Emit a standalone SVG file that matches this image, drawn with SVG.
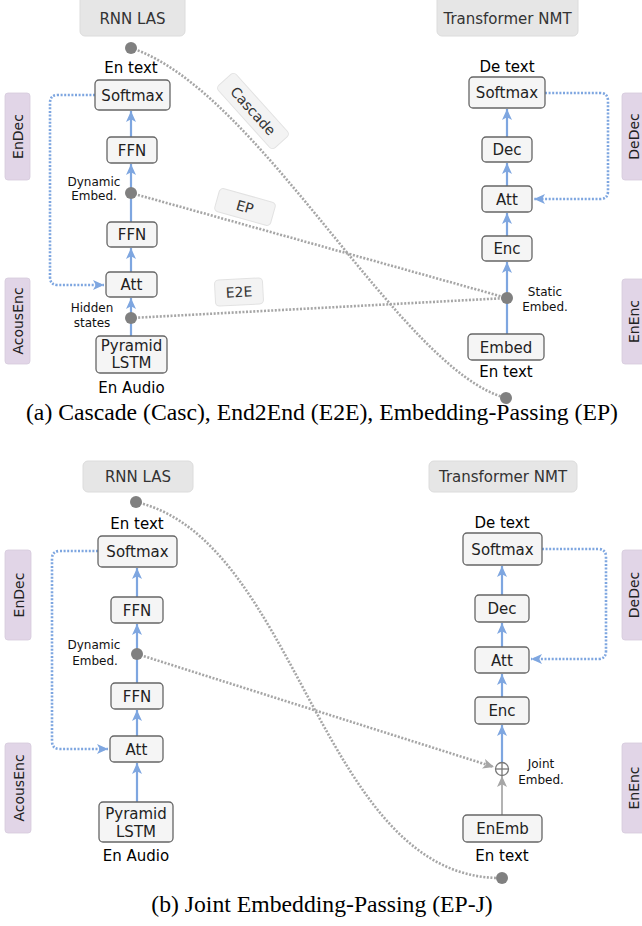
<svg xmlns="http://www.w3.org/2000/svg" width="642" height="926" viewBox="0 0 642 926">
<defs>
<style>
.title{fill:#e6e6e6;stroke:#dcdcdc;stroke-width:1}
.tt{font-family:"DejaVu Sans",Verdana,sans-serif;font-size:15px;fill:#333;text-anchor:middle}
.node{fill:#f5f5f5;stroke:#666;stroke-width:1.3}
.nt{font-family:"DejaVu Sans",Verdana,sans-serif;font-size:15px;fill:#222;text-anchor:middle}
.lab{font-family:"DejaVu Sans",Verdana,sans-serif;font-size:15px;fill:#000;text-anchor:middle}
.sm{font-family:"DejaVu Sans",Verdana,sans-serif;font-size:12px;fill:#111;text-anchor:middle}
.side{fill:#e1d5e7;stroke:#d6cadc;stroke-width:0.8}
.st{font-family:"DejaVu Sans",Verdana,sans-serif;font-size:14px;fill:#222;text-anchor:middle}
.tag{fill:#f3f3f3;stroke:#e2e2e2;stroke-width:1}
.tagt{font-family:"DejaVu Sans",Verdana,sans-serif;font-size:14px;fill:#333;text-anchor:middle}
.blue{fill:none;stroke:#7ea6e0;stroke-width:2.2}
.bdot{fill:none;stroke:#7ea6e0;stroke-width:2.6;stroke-dasharray:2 1.6}
.gdot{fill:none;stroke:#a6a6a6;stroke-width:2.6;stroke-dasharray:2 1.6}
.dot{fill:#808080}
.cap{font-family:"Liberation Serif","Times New Roman",serif;font-size:23.7px;fill:#000;text-anchor:middle}
</style>
<marker id="ab" markerUnits="userSpaceOnUse" markerWidth="12" markerHeight="11" refX="11" refY="5.5" orient="auto">
<path d="M0,0.5 L11,5.5 L0,10.5 L2.8,5.5 z" fill="#7ea6e0"/>
</marker>
<marker id="ag" markerUnits="userSpaceOnUse" markerWidth="12" markerHeight="11" refX="11" refY="5.5" orient="auto">
<path d="M0,0.5 L11,5.5 L0,10.5 L2.8,5.5 z" fill="#a6a6a6"/>
</marker>
</defs>
<rect width="642" height="926" fill="#fff"/>

<!-- ================= Panel (a) ================= -->
<g id="connectors-a">
<path class="gdot" d="M131,48 C260,90 400,370 506,398"/>
<line class="gdot" x1="131" y1="193" x2="507" y2="298"/>
<line class="gdot" x1="131" y1="318" x2="507" y2="298"/>
<path class="bdot" d="M95,95 H58 Q50,95 50,103 V277 Q50,285 58,285 H104" marker-end="url(#ab)"/>
<path class="bdot" d="M545,93 H600 Q608,93 608,101 V191 Q608,199 600,199 H534" marker-end="url(#ab)"/>
<line class="blue" x1="131" y1="336" x2="131" y2="298" marker-end="url(#ab)"/>
<line class="blue" x1="131" y1="272" x2="131" y2="248" marker-end="url(#ab)"/>
<line class="blue" x1="131" y1="222" x2="131" y2="164" marker-end="url(#ab)"/>
<line class="blue" x1="131" y1="137" x2="131" y2="111" marker-end="url(#ab)"/>
<line class="blue" x1="507" y1="334" x2="507" y2="262" marker-end="url(#ab)"/>
<line class="blue" x1="507" y1="236" x2="507" y2="213" marker-end="url(#ab)"/>
<line class="blue" x1="507" y1="186" x2="507" y2="163" marker-end="url(#ab)"/>
<line class="blue" x1="507" y1="137" x2="507" y2="109" marker-end="url(#ab)"/>
</g>

<g id="a-rnnlas"><rect class="title" x="80" y="-5" width="105" height="41" rx="5"/><text class="tt" x="132.5" y="24">RNN LAS</text></g>
<g id="a-nmt"><rect class="title" x="437" y="-5" width="141" height="41" rx="5"/><text class="tt" x="507.5" y="24">Transformer NMT</text></g>

<g id="a-endec"><rect class="side" x="5" y="93" width="25" height="87" rx="3"/><text class="st" transform="translate(23,136.5) rotate(-90)">EnDec</text></g>
<g id="a-acousenc"><rect class="side" x="5" y="278" width="25" height="86" rx="3"/><text class="st" transform="translate(23,321) rotate(-90)">AcousEnc</text></g>
<g id="a-dedec"><rect class="side" x="622" y="93" width="26" height="87" rx="3"/><text class="st" transform="translate(639,136.5) rotate(-90)">DeDec</text></g>
<g id="a-enenc"><rect class="side" x="622" y="279" width="26" height="85" rx="3"/><text class="st" transform="translate(639,321.5) rotate(-90)">EnEnc</text></g>

<g id="a-cascade-tag" transform="translate(253,111) rotate(48)"><rect class="tag" x="-42" y="-12" width="84" height="24" rx="4"/><text class="tagt" x="0" y="5">Cascade</text></g>
<g id="a-ep-tag" transform="translate(245,207) rotate(15.6)"><rect class="tag" x="-29" y="-12" width="58" height="24" rx="4"/><text class="tagt" x="0" y="5">EP</text></g>
<g id="a-e2e-tag" transform="translate(239,292) rotate(-3)"><rect class="tag" x="-24" y="-13" width="48" height="26" rx="4"/><text class="tagt" x="0" y="5">E2E</text></g>

<g id="a-entext-out"><circle class="dot" cx="131" cy="48" r="6"/><text class="lab" x="131" y="73">En text</text></g>
<g id="a-softmax"><rect class="node" x="95" y="80" width="75" height="30" rx="4"/><text class="nt" x="132.5" y="100.5">Softmax</text></g>
<g id="a-ffn1"><rect class="node" x="107" y="137" width="50" height="26" rx="4"/><text class="nt" x="132" y="155.5">FFN</text></g>
<g id="a-dynembed"><circle class="dot" cx="131" cy="193" r="6"/><text class="sm" x="94" y="186">Dynamic</text><text class="sm" x="94" y="200">Embed.</text></g>
<g id="a-ffn2"><rect class="node" x="107" y="222" width="50" height="25" rx="4"/><text class="nt" x="132" y="240">FFN</text></g>
<g id="a-att"><rect class="node" x="106" y="272" width="51" height="25" rx="4"/><text class="nt" x="131.5" y="290">Att</text></g>
<g id="a-hidden"><circle class="dot" cx="131" cy="318" r="6"/><text class="sm" x="92" y="312">Hidden</text><text class="sm" x="92" y="327">states</text></g>
<g id="a-plstm"><rect class="node" x="96" y="336" width="71" height="37" rx="4"/><text class="nt" x="131.5" y="351">Pyramid</text><text class="nt" x="131.5" y="368">LSTM</text><text class="lab" x="131.5" y="393">En Audio</text></g>

<g id="a-detext"><text class="lab" x="507" y="72">De text</text></g>
<g id="a-softmax2"><rect class="node" x="469" y="77" width="76" height="31" rx="4"/><text class="nt" x="507" y="98">Softmax</text></g>
<g id="a-dec"><rect class="node" x="482" y="137" width="50" height="25" rx="4"/><text class="nt" x="507" y="155">Dec</text></g>
<g id="a-att2"><rect class="node" x="482" y="186" width="50" height="26" rx="4"/><text class="nt" x="507" y="204.5">Att</text></g>
<g id="a-enc"><rect class="node" x="482" y="236" width="50" height="25" rx="4"/><text class="nt" x="507" y="254">Enc</text></g>
<g id="a-static"><circle class="dot" cx="507" cy="298" r="6"/><text class="sm" x="545" y="296">Static</text><text class="sm" x="545" y="311">Embed.</text></g>
<g id="a-embed"><rect class="node" x="468" y="334" width="76" height="26" rx="4"/><text class="nt" x="506" y="352.5">Embed</text></g>
<g id="a-entext-in"><text class="lab" x="506" y="377">En text</text><circle class="dot" cx="506" cy="398" r="6"/></g>

<text class="cap" x="322" y="420">(a) Cascade (Casc), End2End (E2E), Embedding-Passing (EP)</text>

<!-- ================= Panel (b) ================= -->
<g id="connectors-b">
<path class="gdot" d="M136,502 C300,540 320,880 502,878"/>
<line class="gdot" x1="137" y1="654" x2="494" y2="767" marker-end="url(#ag)"/>
<path class="bdot" d="M98,551 H60 Q52,551 52,559 V741 Q52,749 60,749 H108" marker-end="url(#ab)"/>
<path class="bdot" d="M542,549 H598 Q606,549 606,557 V651 Q606,659 598,659 H531" marker-end="url(#ab)"/>
<line class="blue" x1="137" y1="802" x2="137" y2="763" marker-end="url(#ab)"/>
<line class="blue" x1="137" y1="736" x2="137" y2="710" marker-end="url(#ab)"/>
<line class="blue" x1="137" y1="683" x2="137" y2="624" marker-end="url(#ab)"/>
<line class="blue" x1="137" y1="597" x2="137" y2="568" marker-end="url(#ab)"/>
<line x1="502" y1="815" x2="502" y2="776" stroke="#a0a0a0" stroke-width="1.6" marker-end="url(#ag)"/>
<line class="blue" x1="502" y1="763" x2="502" y2="725" marker-end="url(#ab)"/>
<line class="blue" x1="502" y1="697" x2="502" y2="674" marker-end="url(#ab)"/>
<line class="blue" x1="502" y1="647" x2="502" y2="623" marker-end="url(#ab)"/>
<line class="blue" x1="502" y1="595" x2="502" y2="566" marker-end="url(#ab)"/>
</g>

<g id="b-rnnlas"><rect class="title" x="83" y="461" width="110" height="31" rx="5"/><text class="tt" x="138" y="482">RNN LAS</text></g>
<g id="b-nmt"><rect class="title" x="429" y="461" width="148" height="31" rx="5"/><text class="tt" x="503" y="482">Transformer NMT</text></g>

<g id="b-endec"><rect class="side" x="5" y="550" width="26" height="90" rx="3"/><text class="st" transform="translate(23.5,595) rotate(-90)">EnDec</text></g>
<g id="b-acousenc"><rect class="side" x="5" y="743" width="26" height="90" rx="3"/><text class="st" transform="translate(23.5,788) rotate(-90)">AcousEnc</text></g>
<g id="b-dedec"><rect class="side" x="622" y="550" width="26" height="90" rx="3"/><text class="st" transform="translate(639,595) rotate(-90)">DeDec</text></g>
<g id="b-enenc"><rect class="side" x="622" y="743" width="26" height="90" rx="3"/><text class="st" transform="translate(639,788) rotate(-90)">EnEnc</text></g>

<g id="b-entext-out"><circle class="dot" cx="136" cy="502" r="6"/><text class="lab" x="137" y="529">En text</text></g>
<g id="b-softmax"><rect class="node" x="98" y="536" width="79" height="31" rx="4"/><text class="nt" x="137.5" y="557">Softmax</text></g>
<g id="b-ffn1"><rect class="node" x="111" y="597" width="52" height="26" rx="4"/><text class="nt" x="137" y="615.5">FFN</text></g>
<g id="b-dynembed"><circle class="dot" cx="137" cy="654" r="6"/><text class="sm" x="94" y="649">Dynamic</text><text class="sm" x="95" y="665">Embed.</text></g>
<g id="b-ffn2"><rect class="node" x="111" y="683" width="52" height="26" rx="4"/><text class="nt" x="137" y="701.5">FFN</text></g>
<g id="b-att"><rect class="node" x="110" y="736" width="53" height="26" rx="4"/><text class="nt" x="136.5" y="754.5">Att</text></g>
<g id="b-plstm"><rect class="node" x="99" y="802" width="74" height="40" rx="4"/><text class="nt" x="136" y="819">Pyramid</text><text class="nt" x="136" y="837">LSTM</text><text class="lab" x="136" y="861">En Audio</text></g>

<g id="b-detext"><text class="lab" x="502" y="528">De text</text></g>
<g id="b-softmax2"><rect class="node" x="463" y="533" width="79" height="32" rx="4"/><text class="nt" x="502.5" y="554.5">Softmax</text></g>
<g id="b-dec"><rect class="node" x="475" y="595" width="54" height="27" rx="4"/><text class="nt" x="502" y="613.5">Dec</text></g>
<g id="b-att2"><rect class="node" x="475" y="647" width="54" height="26" rx="4"/><text class="nt" x="502" y="665.5">Att</text></g>
<g id="b-enc"><rect class="node" x="475" y="697" width="54" height="27" rx="4"/><text class="nt" x="502" y="715.5">Enc</text></g>
<g id="b-joint"><circle cx="502" cy="769" r="6.5" fill="#fff" stroke="#777" stroke-width="1.3"/><line x1="495.5" y1="769" x2="508.5" y2="769" stroke="#777" stroke-width="1.3"/><line x1="502" y1="762.5" x2="502" y2="775.5" stroke="#777" stroke-width="1.3"/><text class="sm" x="541" y="768">Joint</text><text class="sm" x="541" y="784">Embed.</text></g>
<g id="b-enemb"><rect class="node" x="463" y="815" width="79" height="27" rx="4"/><text class="nt" x="502.5" y="833.5">EnEmb</text></g>
<g id="b-entext-in"><text class="lab" x="502" y="861">En text</text><circle class="dot" cx="502" cy="878" r="6"/></g>

<text class="cap" x="322" y="912">(b) Joint Embedding-Passing (EP-J)</text>
</svg>
